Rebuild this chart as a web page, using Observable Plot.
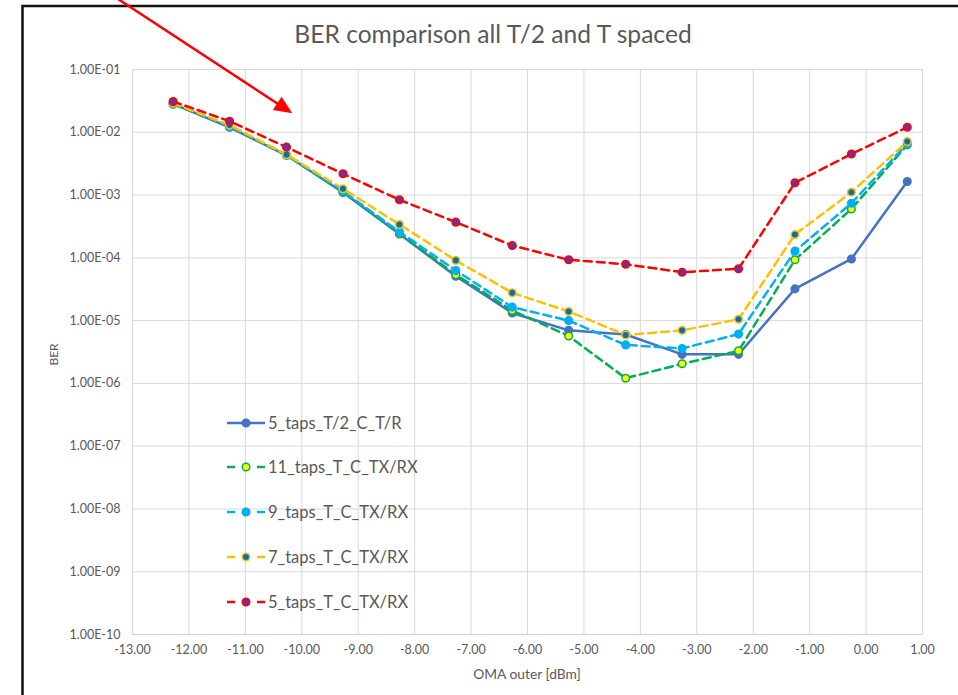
<!DOCTYPE html>
<html>
<head>
<meta charset="utf-8">
<script src="https://cdn.jsdelivr.net/npm/d3@7"></script>
<script src="https://cdn.jsdelivr.net/npm/@observablehq/plot@0.6"></script>
<style>
  html, body { margin: 0; padding: 0; background: #fff; }
  #chart { width: 958px; height: 695px; overflow: hidden; }
</style>
</head>
<body>
<div id="chart"></div>
<script>
// ---- data ----
const xValues = [-12.28, -11.28, -10.27, -9.27, -8.27, -7.27, -6.27, -5.27, -4.26, -3.26, -2.26, -1.26, -0.26, 0.73];

const seriesNames = ["5_taps_T/2_C_T/R", "11_taps_T_C_TX/RX", "9_taps_T_C_TX/RX", "7_taps_T_C_TX/RX", "5_taps_T_C_TX/RX"];

const ber5tapsT2 = [2.85e-2, 1.2e-2, 4.3e-3, 1.1e-3, 2.4e-4, 5.1e-5, 1.32e-5, 7.0e-6, 6.0e-6, 2.9e-6, 2.9e-6, 3.2e-5, 9.6e-5, 1.64e-3];
const ber11tapsT = [2.8e-2, 1.25e-2, 4.3e-3, 1.12e-3, 2.45e-4, 5.4e-5, 1.45e-5, 5.7e-6, 1.21e-6, 2.05e-6, 3.3e-6, 9.3e-5, 6.0e-4, 6.3e-3];
const ber9tapsT  = [2.9e-2, 1.25e-2, 4.35e-3, 1.15e-3, 2.6e-4, 6.3e-5, 1.64e-5, 1.0e-5, 4.1e-6, 3.6e-6, 6.1e-6, 1.28e-4, 7.4e-4, 6.6e-3];
const ber7tapsT  = [2.9e-2, 1.3e-2, 4.4e-3, 1.26e-3, 3.4e-4, 9.1e-5, 2.77e-5, 1.4e-5, 5.9e-6, 7.0e-6, 1.05e-5, 2.35e-4, 1.11e-3, 7.1e-3];
const ber5tapsT  = [3.1e-2, 1.5e-2, 5.8e-3, 2.18e-3, 8.4e-4, 3.7e-4, 1.57e-4, 9.3e-5, 7.9e-5, 5.9e-5, 6.7e-5, 1.57e-3, 4.5e-3, 1.2e-2];

const xTicks = [-13, -12, -11, -10, -9, -8, -7, -6, -5, -4, -3, -2, -1, 0, 1];
const yTicks = [1e-1, 1e-2, 1e-3, 1e-4, 1e-5, 1e-6, 1e-7, 1e-8, 1e-9, 1e-10];
const yTickLabels = ["1.00E-01", "1.00E-02", "1.00E-03", "1.00E-04", "1.00E-05", "1.00E-06", "1.00E-07", "1.00E-08", "1.00E-09", "1.00E-10"];

const titleText = "BER comparison all T/2 and T spaced";
const xLabel = "OMA outer [dBm]";
const yLabel = "BER";

// annotation arrow (data coordinates)
const arrowFrom = {x: -13.30, y: 1.4};
const arrowTo = {x: -10.16, y: 0.0197};

// ---- styles ----
const styles = [
  {line: "#4472C4", dash: null,  fill: "#4472C4", stroke: "#4472C4"},
  {line: "#00B050", dash: "8,5", fill: "#FFFF00", stroke: "#00B050"},
  {line: "#00B0F0", dash: "8,5", fill: "#00B0F0", stroke: "#00B0F0"},
  {line: "#FFC000", dash: "8,5", fill: "#0070C0", stroke: "#FFC000"},
  {line: "#FF0000", dash: "8,5", fill: "#7030A0", stroke: "#FF0000"}
];
const seriesValues = [ber5tapsT2, ber11tapsT, ber9tapsT, ber7tapsT, ber5tapsT];

const tables = seriesValues.map((vals, k) => xValues.map((x, i) => ({x, ber: vals[i], name: seriesNames[k]})));

const seriesMarks = tables.flatMap((tbl, k) => {
  const s = styles[k];
  return [
    Plot.line(tbl, {x: "x", y: "ber", stroke: s.line, strokeWidth: 2.5, strokeDasharray: s.dash, strokeLinejoin: "round"}),
    Plot.dot(tbl, {x: "x", y: "ber", r: 3.8, fill: s.fill, stroke: s.stroke, strokeWidth: 1.5})
  ];
});

const FONT = "Lato, 'Open Sans', sans-serif";
const GREY = "#595959";

const chart = Plot.plot({
  width: 958,
  height: 695,
  marginLeft: 132,
  marginRight: 36,
  marginTop: 69,
  marginBottom: 61,
  style: {fontFamily: FONT, fontSize: "12.5px", color: GREY, background: "#fff", overflow: "visible"},
  x: {domain: [-13, 1], ticks: xTicks, tickFormat: d => d.toFixed(2), tickSize: 0, tickPadding: 11, label: null},
  y: {type: "log", domain: [1e-10, 1e-1], ticks: yTicks, tickFormat: d => yTickLabels[yTicks.findIndex(t => Math.abs(Math.log10(t) - Math.log10(d)) < 1e-6)], tickSize: 0, tickPadding: 12, label: null},
  marks: [
    Plot.ruleX(xTicks, {stroke: "#D9D9D9", strokeWidth: 1}),
    Plot.ruleY(yTicks, {stroke: "#D9D9D9", strokeWidth: 1}),
    Plot.ruleY([1e-10], {stroke: "#CFCFCF", strokeWidth: 1}),
    ...seriesMarks
  ]
});

document.getElementById("chart").appendChild(chart);

// ---- overlays drawn with the plot's scales ----
const sx = chart.scale("x"), sy = chart.scale("y");
const svg = d3.select(chart);

// frame (cropped screenshot border: top and left)
svg.append("path")
  .attr("d", "M22.5,695 L22.5,6 L958,6")
  .attr("fill", "none").attr("stroke", "#111").attr("stroke-width", 2.5);

// title
svg.append("text")
  .attr("x", 493).attr("y", 43)
  .attr("text-anchor", "middle")
  .attr("font-family", FONT).attr("font-size", 24.6).attr("fill", GREY)
  .text(titleText);

// axis titles
const xMid = (sx.apply(-13) + sx.apply(1)) / 2;
svg.append("text")
  .attr("x", xMid).attr("y", 679)
  .attr("text-anchor", "middle")
  .attr("font-family", FONT).attr("font-size", 13.8).attr("fill", GREY)
  .text(xLabel);
const yMid = (sy.apply(1e-1) + sy.apply(1e-10)) / 2;
svg.append("text")
  .attr("transform", `translate(58,${yMid + 3}) rotate(-90)`)
  .attr("text-anchor", "middle")
  .attr("font-family", FONT).attr("font-size", 12).attr("fill", GREY)
  .text(yLabel);

// legend
const legend = svg.append("g");
const lx0 = 227, lx1 = 265, lmx = 246, ltx = 268;
const lys = [423, 467, 512, 557, 602];
seriesNames.forEach((name, k) => {
  const s = styles[k], y = lys[k];
  if (s.dash) {
    legend.append("line").attr("x1", lx0).attr("x2", lx0 + 8).attr("y1", y).attr("y2", y).attr("stroke", s.line).attr("stroke-width", 2.5);
    legend.append("line").attr("x1", lx1 - 8).attr("x2", lx1).attr("y1", y).attr("y2", y).attr("stroke", s.line).attr("stroke-width", 2.5);
  } else {
    legend.append("line").attr("x1", lx0).attr("x2", lx1).attr("y1", y).attr("y2", y).attr("stroke", s.line).attr("stroke-width", 2.5);
  }
  legend.append("circle").attr("cx", lmx).attr("cy", y).attr("r", 3.8).attr("fill", s.fill).attr("stroke", s.stroke).attr("stroke-width", 1.5);
  legend.append("text").attr("x", ltx).attr("y", y + 5.5)
    .attr("text-anchor", "start")
    .attr("font-family", FONT).attr("font-size", 16.5).attr("fill", GREY)
    .text(name);
});

// red annotation arrow
const ax0 = sx.apply(arrowFrom.x), ay0 = sy.apply(arrowFrom.y);
const ax1 = sx.apply(arrowTo.x), ay1 = sy.apply(arrowTo.y);
const ang = Math.atan2(ay1 - ay0, ax1 - ax0);
const headLen = 18, headHalf = 8;
const bx = ax1 - headLen * Math.cos(ang), by = ay1 - headLen * Math.sin(ang);
svg.append("line")
  .attr("x1", ax0).attr("y1", ay0).attr("x2", bx + 2 * Math.cos(ang)).attr("y2", by + 2 * Math.sin(ang))
  .attr("stroke", "#FF0000").attr("stroke-width", 2.5);
svg.append("path")
  .attr("d", `M${ax1},${ay1} L${bx - headHalf * Math.sin(ang)},${by + headHalf * Math.cos(ang)} L${bx + headHalf * Math.sin(ang)},${by - headHalf * Math.cos(ang)} Z`)
  .attr("fill", "#FF0000");
</script>
</body>
</html>
